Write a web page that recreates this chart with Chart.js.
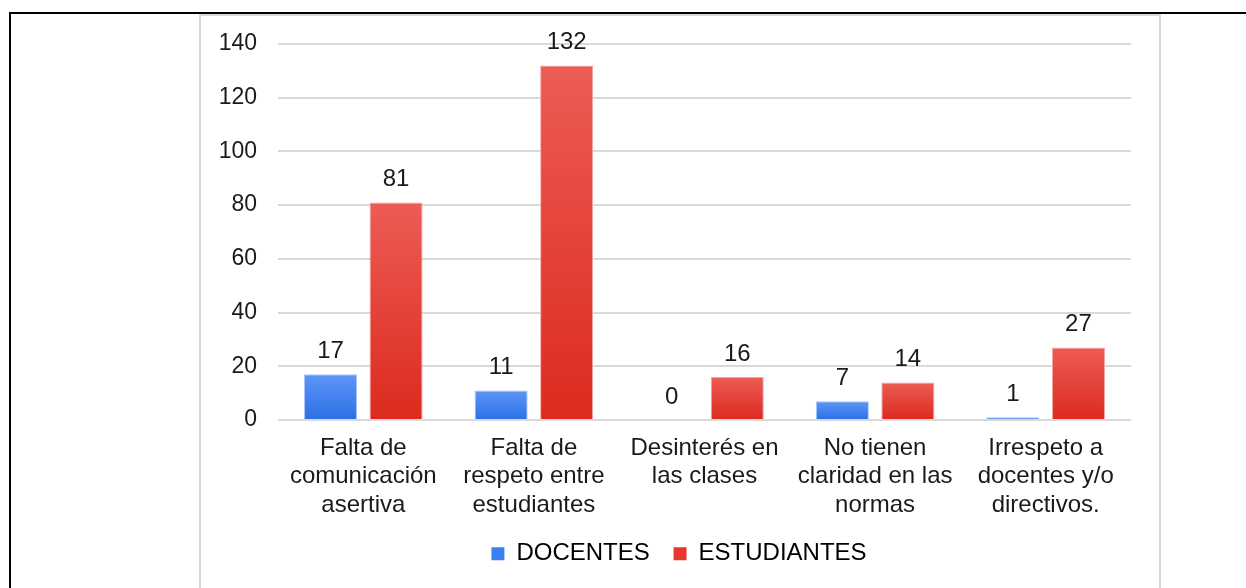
<!DOCTYPE html>
<html>
<head>
<meta charset="utf-8">
<script src="https://cdn.jsdelivr.net/npm/chart.js@4/dist/chart.umd.min.js"></script>
<style>
    html, body { margin: 0; padding: 0; background: #fff; overflow: hidden; }
    body { width: 1246px; height: 588px; position: relative; }
    .marco { position: absolute; left: 9px; top: 12px; width: 1240px; height: 600px; border-top: 2px solid #000; border-left: 2px solid #000; }
    .caja { position: absolute; left: 199px; top: 14px; width: 958px; height: 600px; border: 2px solid #d9d9d9; border-bottom: none; }
    .lienzo { position: absolute; left: 0; top: 0; width: 958px; height: 572px; }
</style>
</head>
<body>
<div class="marco"></div>
<div class="caja">
    <div class="lienzo"><canvas id="grafico"></canvas></div>
</div>
<script>
const categorias = [
    ['Falta de', 'comunicación', 'asertiva'],
    ['Falta de', 'respeto entre', 'estudiantes'],
    ['Desinterés en', 'las clases'],
    ['No tienen', 'claridad en las', 'normas'],
    ['Irrespeto a', 'docentes y/o', 'directivos.']
];
const docentes = [17, 11, 0, 7, 1];
const estudiantes = [81, 132, 16, 14, 27];
const ticksY = [0, 20, 40, 60, 80, 100, 120, 140];

const familia = "'Liberation Sans', Arial, sans-serif";
const fuente = { family: familia, size: 23 };
const fuenteGrande = { family: familia, size: 24 };

function degradado(ctx, arriba, abajo) {
    const chart = ctx.chart;
    if (!chart.chartArea || !chart.scales.y) return abajo;
    const valor = ctx.raw || 0;
    const yTop = chart.scales.y.getPixelForValue(valor);
    const yBase = chart.scales.y.getPixelForValue(0);
    if (yBase - yTop < 1) return abajo;
    const g = chart.ctx.createLinearGradient(0, yTop, 0, yBase);
    g.addColorStop(0, arriba);
    g.addColorStop(0.5, mezcla(arriba, abajo));
    g.addColorStop(1, abajo);
    return g;
}

function mezcla(a, b) {
    const pa = [1, 3, 5].map(i => parseInt(a.substr(i, 2), 16));
    const pb = [1, 3, 5].map(i => parseInt(b.substr(i, 2), 16));
    return 'rgb(' + pa.map((v, i) => Math.round((v + pb[i]) / 2)).join(',') + ')';
}

const etiquetasValor = {
    id: 'etiquetasValor',
    afterDatasetsDraw(chart) {
        const ctx = chart.ctx;
        ctx.save();
        ctx.font = fuenteGrande.size + 'px ' + familia;
        ctx.fillStyle = '#1a1a1a';
        ctx.textAlign = 'center';
        ctx.textBaseline = 'middle';
        chart.data.datasets.forEach((ds, i) => {
            chart.getDatasetMeta(i).data.forEach((barra, j) => {
                ctx.fillText(String(ds.data[j]), barra.x, barra.y - 23);
            });
        });
        ctx.restore();
    }
};

// la leyenda del original queda un poco mas a la derecha
const moverLeyenda = {
    id: 'moverLeyenda',
    afterLayout(chart) {
        if (!chart.legend) return;
        chart.legend.left += 13;
        chart.legend.right += 13;
    }
};

new Chart(document.getElementById('grafico'), {
    type: 'bar',
    data: {
        labels: categorias,
        datasets: [
            {
                label: 'DOCENTES',
                data: docentes,
                backgroundColor: ctx => degradado(ctx, '#5e96f8', '#2a70e4'),
                borderColor: '#a9c6fa',
                borderWidth: 1,
                categoryPercentage: 0.768,
                barPercentage: 0.81
            },
            {
                label: 'ESTUDIANTES',
                data: estudiantes,
                backgroundColor: ctx => degradado(ctx, '#ec5c55', '#dc2a1e'),
                borderColor: '#f3a8a2',
                borderWidth: 1,
                categoryPercentage: 0.768,
                barPercentage: 0.81
            }
        ]
    },
    options: {
        responsive: true,
        maintainAspectRatio: false,
        animation: false,
        layout: { padding: { top: 28, right: 28, bottom: 12.2, left: 0 } },
        scales: {
            x: {
                grid: { display: false },
                border: { display: false },
                ticks: {
                    color: '#1a1a1a',
                    font: { ...fuenteGrande, lineHeight: 1.19 },
                    padding: 6,
                    maxRotation: 0,
                    autoSkip: false
                },
                afterFit: scale => { scale.height = 98; }
            },
            y: {
                min: 0,
                max: 140,
                afterBuildTicks: scale => { scale.ticks = ticksY.map(v => ({ value: v })); },
                grid: { color: '#d9d9d9', lineWidth: 2, drawTicks: false },
                border: { display: false },
                ticks: { color: '#1a1a1a', font: fuente, padding: 21 },
                afterFit: scale => {
                    scale.width = 77;
                    scale.paddingTop = 10;
                    scale.paddingBottom = 10;
                }
            }
        },
        plugins: {
            legend: {
                position: 'bottom',
                labels: {
                    color: '#1a1a1a',
                    font: fuenteGrande,
                    boxWidth: 13,
                    boxHeight: 13,
                    padding: 23.8,
                    generateLabels: chart => [
                        { text: 'DOCENTES', fillStyle: '#3a80f2', strokeStyle: '#3a80f2', lineWidth: 0, datasetIndex: 0 },
                        { text: 'ESTUDIANTES', fillStyle: '#e8372c', strokeStyle: '#e8372c', lineWidth: 0, datasetIndex: 1 }
                    ]
                }
            },
            tooltip: { enabled: false }
        }
    },
    plugins: [etiquetasValor, moverLeyenda]
});
</script>
</body>
</html>
